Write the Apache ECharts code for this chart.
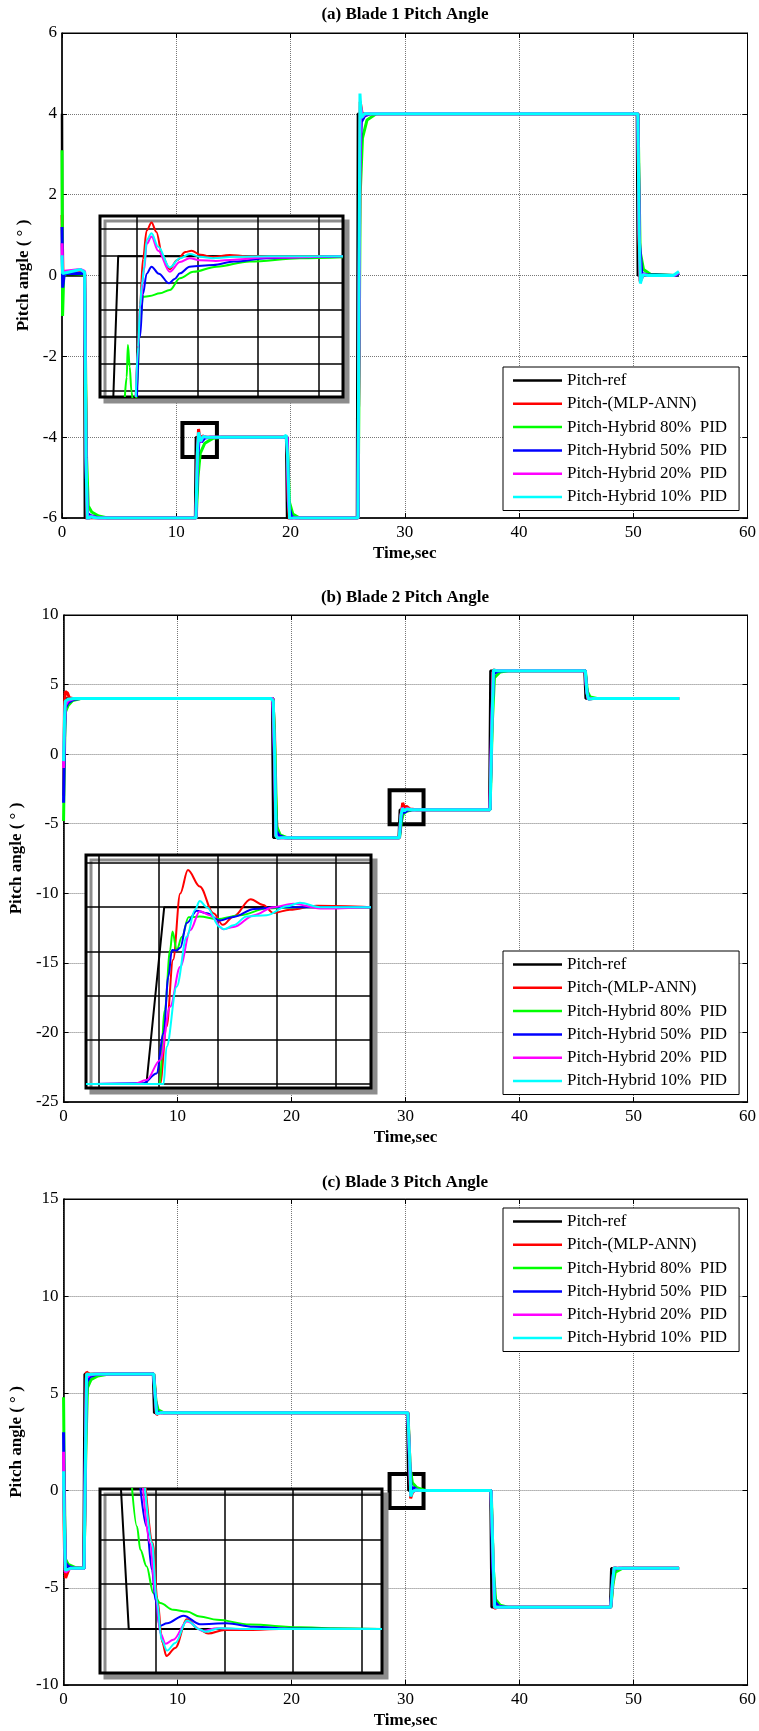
<!DOCTYPE html>
<html>
<head>
<meta charset="utf-8">
<title>Blade pitch angle</title>
<script src="https://cdn.jsdelivr.net/npm/echarts@6/dist/echarts.min.js"></script>
<style>
html,body{margin:0;padding:0;background:#fff;}
#main{width:759px;height:1731px;}
</style>
</head>
<body>
<div id="main"></div>
<script type="text/javascript">
// legend / series names and colours
var names = ['Pitch-ref', 'Pitch-(MLP-ANN)', 'Pitch-Hybrid 80%  PID', 'Pitch-Hybrid 50%  PID', 'Pitch-Hybrid 20%  PID', 'Pitch-Hybrid 10%  PID'];
var colors = ['#000000', '#ff0000', '#00ff00', '#0000ff', '#ff00ff', '#00ffff'];
var titles = ['(a) Blade 1 Pitch Angle', '(b) Blade 2 Pitch Angle', '(c) Blade 3 Pitch Angle'];
var xTicks = [0, 60, 10];
var yTicks = [[-6, 6, 2], [-25, 10, 5], [-10, 15, 5]];

// ---- blade 1 (time s, angle deg)
var b1Ref = [[0,4],[0.03,0],[1.95,0],[2.0,-6],[11.65,-6],[11.72,-4],[19.62,-4],[19.7,-6],[25.82,-6],[25.9,4],[50.32,4],[50.4,0],[54,0]];
var b1Ann = [[0,1.5],[0.08,0.1],[0.3,0.05],[1.6,0.1],[1.98,0.05],[2.1,-4],[2.2,-6.1],[2.4,-6.0],[11.72,-6],[11.85,-4.4],[11.95,-3.8],[12.1,-4.1],[12.3,-3.97],[12.6,-4],[19.7,-4],[19.8,-5.5],[19.9,-6.05],[20.2,-6],[25.9,-6],[26.0,-1],[26.1,4.3],[26.3,3.95],[26.6,4.0],[50.4,4],[50.5,1],[50.6,-0.15],[50.9,0.03],[51.3,0],[53.6,0],[54,0.06]];
var b1H80 = [[0,3.1],[0.05,-1],[0.15,0],[0.4,0.05],[1.98,0.03],[2.15,-4.5],[2.3,-5.7],[2.6,-5.85],[3.2,-5.95],[4,-6],[11.75,-6],[11.9,-5],[12.1,-4.4],[12.5,-4.15],[13.2,-4.03],[14,-4],[19.72,-4],[19.9,-5.6],[20.2,-5.9],[20.8,-6],[25.92,-6],[26.1,2.0],[26.3,3.4],[26.7,3.85],[27.5,4.0],[50.42,4],[50.6,0.6],[50.9,0.15],[51.5,0.03],[53.7,0],[54,0.05]];
var b1H50 = [[0,1.2],[0.06,-0.3],[0.2,0.05],[1.98,0.05],[2.12,-5],[2.25,-5.9],[2.6,-5.95],[3.2,-6],[11.73,-6],[11.88,-4.5],[12.0,-4.05],[12.2,-4.12],[12.5,-4.02],[13,-4],[19.71,-4],[19.85,-5.7],[20.1,-5.97],[20.5,-6],[25.91,-6],[26.05,2.5],[26.2,3.8],[26.5,3.95],[27,4.0],[50.41,4],[50.55,0.8],[50.75,0.05],[51.2,0.02],[53.7,0],[54,0.05]];
var b1H20 = [[0,0.8],[0.05,0.1],[0.2,0.1],[1.6,0.15],[1.98,0.1],[2.1,-4.5],[2.22,-6.05],[2.5,-5.95],[3,-6],[11.72,-6],[11.86,-4.3],[11.96,-3.9],[12.12,-4.12],[12.35,-3.98],[12.7,-4],[19.7,-4],[19.82,-5.6],[19.95,-6.02],[20.3,-6],[25.9,-6],[26.02,0],[26.12,4.2],[26.3,3.93],[26.6,4.01],[50.4,4],[50.52,1.0],[50.62,-0.12],[50.9,0.03],[51.3,0],[53.6,0],[54,0.08]];
var b1H10 = [[0,0.5],[0.05,0.05],[0.2,0.08],[1.6,0.15],[1.98,0.08],[2.1,-4.5],[2.22,-6.05],[2.5,-5.97],[3,-6],[11.72,-6],[11.86,-4.3],[11.96,-3.88],[12.12,-4.1],[12.35,-3.98],[12.7,-4],[19.4,-4],[19.62,-3.95],[19.75,-4.5],[19.92,-6.02],[20.3,-6],[25.9,-6],[26.0,0],[26.08,4.5],[26.2,3.9],[26.5,4.01],[26.8,4.0],[50.4,4],[50.52,1.0],[50.62,-0.2],[50.85,0.02],[51.3,0],[53.5,0],[54,0.1]];

// ---- blade 2
var b2Ref = [[0,4],[18.3,4],[18.4,-6],[29.4,-6],[29.5,-4],[37.35,-4],[37.45,6],[45.7,6],[45.8,4],[54,4]];
var b2Ann = [[0,-3],[0.08,3.5],[0.15,4.5],[0.35,4.4],[0.5,4.05],[0.8,4.0],[18.35,4],[18.5,2],[18.6,-3],[18.75,-6.05],[19.0,-6],[29.45,-6],[29.6,-4.5],[29.75,-3.5],[29.9,-3.85],[30.1,-3.75],[30.4,-3.95],[31,-4],[37.4,-4],[37.55,1],[37.7,6.05],[38,6],[45.75,6],[45.9,4.6],[46.05,3.95],[46.4,4],[54,4]];
var b2H80 = [[0,-4.8],[0.08,0],[0.15,3.0],[0.4,3.5],[0.8,3.85],[1.5,4.0],[18.38,4],[18.55,0],[18.7,-5.2],[19,-5.8],[19.6,-6],[29.48,-6],[29.65,-4.8],[29.8,-4.3],[30.1,-4.1],[30.6,-4],[37.42,-4],[37.6,2],[37.8,5.5],[38.3,5.9],[39,6],[45.78,6],[45.95,4.5],[46.2,4.1],[46.8,4],[54,4]];
var b2H50 = [[0,-3.5],[0.08,1],[0.15,3.3],[0.4,3.7],[0.9,3.95],[1.5,4],[18.36,4],[18.52,-1],[18.65,-5.5],[18.9,-5.85],[19.4,-6],[29.46,-6],[29.62,-4.6],[29.75,-4.05],[29.9,-4.2],[30.2,-4.02],[30.8,-4],[37.41,-4],[37.58,3],[37.75,5.8],[38.1,5.95],[38.6,6],[45.76,6],[45.92,4.4],[46.1,4.0],[46.5,4],[54,4]];
var b2H20 = [[0,-1],[0.08,2],[0.15,3.5],[0.4,3.85],[0.9,4.0],[18.35,4],[18.5,0],[18.62,-5.8],[18.8,-6.05],[19.2,-6],[29.45,-6],[29.6,-4.4],[29.72,-3.85],[29.88,-4.05],[30.1,-3.92],[30.6,-4],[37.4,-4],[37.56,2],[37.7,6],[38,6.02],[45.75,6],[45.9,4.5],[46.02,3.97],[46.4,4],[54,4]];
var b2H10 = [[0,-0.5],[0.08,2.5],[0.15,3.8],[0.4,3.95],[0.9,4.0],[18.2,4],[18.4,3.8],[18.52,0],[18.64,-5.9],[18.8,-6.05],[19.2,-6],[29.45,-6],[29.6,-4.4],[29.74,-3.9],[29.9,-4.08],[30.1,-3.95],[30.6,-4],[37.42,-4],[37.58,2],[37.72,6.05],[38.0,6.0],[45.77,6],[45.92,4.4],[46.05,3.95],[46.5,4],[54,4]];

// ---- blade 3
var b3Ref = [[0,-4],[1.75,-4],[1.85,6],[7.85,6],[7.95,4],[30.15,4],[30.25,0],[37.45,0],[37.55,-6],[47.95,-6],[48.05,-4],[54,-4]];
var b3Ann = [[0,0],[0.08,-3],[0.18,-4.5],[0.3,-4.3],[0.5,-4.0],[1.8,-4],[1.92,1],[2.0,6.1],[2.3,5.97],[2.8,6],[7.9,6],[8.05,5],[8.15,3.9],[8.4,4],[30.2,4],[30.35,2],[30.45,-0.4],[30.6,-0.1],[30.9,0.05],[31.3,0],[37.5,0],[37.65,-3],[37.8,-6.05],[38.1,-6],[48,-6],[48.15,-5],[48.3,-3.95],[48.6,-4],[54,-4]];
var b3H80 = [[0,4.8],[0.05,1.5],[0.15,-3.5],[0.4,-3.8],[1,-3.95],[1.8,-4],[1.95,2],[2.1,5.3],[2.4,5.7],[3,5.9],[4,6],[7.92,6],[8.1,4.6],[8.3,4.15],[8.8,4],[30.22,4],[30.4,1.2],[30.6,0.4],[31,0.15],[31.8,0],[37.52,0],[37.7,-4],[37.9,-5.6],[38.3,-5.9],[39,-6],[48.02,-6],[48.2,-4.8],[48.4,-4.2],[49,-4],[54,-4]];
var b3H50 = [[0,3],[0.05,0],[0.15,-3.7],[0.4,-3.9],[1,-4],[1.8,-4],[1.93,3],[2.05,5.6],[2.3,5.85],[2.8,5.97],[3.4,6],[7.9,6],[8.05,4.7],[8.2,4.05],[8.6,4],[30.2,4],[30.35,1.5],[30.5,0.05],[30.7,0.15],[31.1,0.02],[31.6,0],[37.5,0],[37.65,-4],[37.85,-5.75],[38.2,-5.95],[38.8,-6],[48,-6],[48.15,-4.6],[48.3,-4.05],[48.7,-4],[54,-4]];
var b3H20 = [[0,2],[0.06,-1],[0.15,-4.2],[0.3,-4.1],[0.6,-4],[1.8,-4],[1.92,2],[2.0,5.8],[2.3,5.95],[2.8,6],[7.9,6],[8.05,4.8],[8.15,3.95],[8.5,4],[30.2,4],[30.35,1.8],[30.45,-0.25],[30.6,-0.05],[30.9,0.03],[31.3,0],[37.5,0],[37.65,-3],[37.8,-6.0],[38.1,-6],[48,-6],[48.15,-4.8],[48.3,-3.97],[48.6,-4],[54,-4]];
var b3H10 = [[0,1],[0.06,-1.5],[0.15,-4.1],[0.3,-4.05],[0.6,-4],[1.8,-4],[1.93,2],[2.02,6.0],[2.3,5.97],[2.8,6],[7.9,6],[8.05,4.8],[8.17,3.95],[8.5,4],[30.2,4],[30.36,1.8],[30.46,-0.3],[30.6,-0.05],[30.9,0.03],[31.3,0],[37.5,0],[37.66,-3],[37.82,-6.0],[38.1,-6],[48.0,-6],[48.15,-4.8],[48.3,-3.97],[48.6,-4],[54,-4]];

// ---- zoom boxes on the main plots [t0, a0, t1, a1]
var zoomBoxes = [[10.54,-3.65,13.56,-4.49],[28.6,-2.59,31.58,-5.03],[28.6,0.85,31.58,-0.9]];

// ---- insets (local zoom units, one grid cell = 1)
var insetX = [[-0.61,3.40],[-0.22,4.59],[-0.82,3.30]];
var insetY = [[-0.23,6.49],[-0.09,5.18],[-0.98,3.125]];

var z1Ref = [[-0.39,-0.23],[-0.31,5],[3.4,5]];
var z1Ann = [[-0.02,-0.23],[0.02,1.6],[0.05,3.2],[0.1,4.9],[0.16,5.95],[0.24,6.25],[0.32,5.9],[0.42,5.0],[0.54,4.51],[0.66,4.85],[0.8,5.15],[0.9,5.2],[1.05,5.05],[1.25,4.97],[1.53,5.04],[1.8,5.0],[3.4,5.0]];
var z1H80 = [[-0.2,-0.23],[-0.17,0.5],[-0.15,1.7],[-0.12,0.89],[-0.09,-0.04],[-0.06,-0.5],[-0.02,-0.5],[0.0,0.03],[0.05,2.5],[0.10,3.49],[0.21,3.52],[0.38,3.62],[0.54,3.74],[0.71,4.18],[0.93,4.42],[1.31,4.61],[1.86,4.80],[2.69,4.92],[3.4,4.96]];
var z1H50 = [[0.0,-0.23],[0.05,2.0],[0.1,3.6],[0.16,4.35],[0.24,4.61],[0.36,4.35],[0.53,3.99],[0.62,4.15],[0.71,4.36],[0.87,4.61],[1.26,4.67],[1.6,4.8],[2.14,4.92],[2.69,4.96],[3.4,5.0]];
var z1H20 = [[-0.02,-0.23],[0.02,1.6],[0.05,3.1],[0.12,4.5],[0.16,5.45],[0.24,5.73],[0.35,5.2],[0.54,4.42],[0.71,4.78],[0.87,4.92],[1.04,4.85],[1.3,4.82],[1.6,4.87],[2.14,4.95],[3.4,5.0]];
var z1H10 = [[-0.02,-0.23],[0.02,1.64],[0.05,3.12],[0.08,3.9],[0.12,4.61],[0.16,5.6],[0.24,5.85],[0.35,5.35],[0.54,4.58],[0.71,4.92],[0.87,5.08],[1.04,4.98],[1.26,4.92],[1.6,4.98],[2.2,5.0],[3.4,5.0]];

var z2Ref = [[-0.22,0],[0.80,0],[1.10,4.0],[4.59,4.0]];
var z2Ann = [[-0.22,0],[1.03,0],[1.14,1.30],[1.25,2.81],[1.37,4.31],[1.50,4.84],[1.70,4.47],[1.93,3.86],[2.09,3.60],[2.27,3.79],[2.56,4.18],[2.77,4.05],[2.94,3.87],[3.22,3.94],[3.67,4.03],[4.59,4.0]];
var z2H80 = [[-0.22,0],[1.02,0],[1.11,1.67],[1.20,3.03],[1.24,3.45],[1.31,3.03],[1.40,3.33],[1.51,3.77],[1.70,3.79],[1.99,3.73],[2.38,3.82],[2.83,3.97],[3.39,4.0],[4.59,4.0]];
var z2H50 = [[-0.22,0],[0.75,0.02],[0.97,0.24],[1.09,1.15],[1.17,2.43],[1.23,3.03],[1.31,3.02],[1.37,3.08],[1.48,3.64],[1.65,3.92],[1.82,3.86],[2.04,3.70],[2.27,3.78],[2.62,3.96],[3.0,4.0],[4.59,4.0]];
var z2H20 = [[-0.22,0],[0.58,0],[0.80,0.09],[1.03,0.54],[1.20,1.75],[1.37,2.65],[1.54,3.48],[1.70,3.91],[1.87,3.82],[2.10,3.50],[2.27,3.55],[2.62,3.82],[2.94,4.0],[3.28,4.08],[3.73,3.97],[4.59,4.0]];
var z2H10 = [[-0.22,0],[1.09,0],[1.14,0.84],[1.31,2.20],[1.48,3.33],[1.62,3.94],[1.70,4.14],[1.82,4.0],[2.04,3.55],[2.11,3.50],[2.27,3.59],[2.49,3.79],[2.83,3.82],[3.17,4.02],[3.39,4.10],[3.73,4.0],[4.59,4.0]];

var z3Ref = [[-0.52,3.3],[-0.40,0],[3.30,0]];
var z3Ann = [[-0.16,3.3],[-0.05,1.92],[0.02,0.65],[0.09,-0.3],[0.15,-0.60],[0.28,-0.42],[0.45,0.22],[0.62,0.0],[0.76,-0.10],[1.0,-0.02],[1.37,-0.02],[1.8,0],[3.30,0]];
var z3H80 = [[-0.36,3.3],[-0.28,2.29],[-0.23,1.77],[-0.14,1.40],[-0.04,0.80],[0.06,0.58],[0.25,0.43],[0.45,0.39],[0.64,0.28],[0.89,0.21],[1.37,0.10],[2.10,0.04],[2.59,0.02],[3.30,0]];
var z3H50 = [[-0.24,3.3],[-0.14,2.29],[-0.06,1.32],[-0.01,0.65],[0.05,0.07],[0.16,0.13],[0.40,0.30],[0.64,0.11],[1.03,0.13],[1.42,0.05],[2.0,0.01],[3.30,0]];
var z3H20 = [[-0.20,3.3],[-0.09,1.92],[-0.01,0.80],[0.06,-0.09],[0.14,-0.33],[0.25,-0.24],[0.45,0.17],[0.69,-0.04],[0.89,0.02],[1.3,0],[3.30,0]];
var z3H10 = [[-0.17,3.3],[-0.06,1.92],[0.01,0.65],[0.08,-0.24],[0.16,-0.48],[0.28,-0.31],[0.45,0.19],[0.64,-0.01],[0.72,-0.06],[0.93,0.02],[1.4,0],[3.30,0]];

var mainData = [[b1Ref,b1Ann,b1H80,b1H50,b1H20,b1H10],[b2Ref,b2Ann,b2H80,b2H50,b2H20,b2H10],[b3Ref,b3Ann,b3H80,b3H50,b3H20,b3H10]];
var insetData = [[z1Ref,z1Ann,z1H80,z1H50,z1H20,z1H10],[z2Ref,z2Ann,z2H80,z2H50,z2H20,z2H10],[z3Ref,z3Ann,z3H80,z3H50,z3H20,z3H10]];

// ---- layout
var FONT = 'Liberation Serif';
var mainTops = [33, 615, 1199];
var mainHeights = [485, 487, 486];
var titleTops = [6, 589, 1174];
var legendTops = [367, 951, 1208];
var insetRects = [[100,216,243,181],[86,855,285,233],[100,1489,282,184]];
var insetSplitX = [4, 5, 4];
var insetSplitY = [6, 5, 4];

var grids = [], xAxes = [], yAxes = [], series = [], titleOpt = [], legends = [];

for (var i = 0; i < 3; i++) {
    titleOpt.push({
        text: titles[i], left: 405, top: titleTops[i], textAlign: 'center', padding: 0,
        textStyle: {fontFamily: FONT, fontSize: 17, fontWeight: 'bold', color: '#000'}
    });

    var g = grids.length;
    grids.push({left: 62, top: mainTops[i], width: 686, height: mainHeights[i],
        show: true, borderColor: '#000', borderWidth: 1, backgroundColor: 'transparent'});
    var xi = xAxes.length, yi = yAxes.length;
    xAxes.push({
        type: 'value', gridIndex: g, min: xTicks[0], max: xTicks[1], interval: xTicks[2],
        name: 'Time,sec', nameLocation: 'middle', nameGap: 27,
        nameTextStyle: {fontFamily: FONT, fontSize: 17, fontWeight: 'bold', color: '#000'},
        axisLine: {onZero: false, lineStyle: {color: '#000', width: 1.5}},
        axisTick: {inside: true, length: 5, lineStyle: {color: '#000'}},
        axisLabel: {fontFamily: FONT, fontSize: 17, color: '#000', margin: 6},
        splitLine: {show: true, lineStyle: {color: '#777', type: 'dotted', width: 1}}
    });
    xAxes.push({
        type: 'value', gridIndex: g, position: 'top', min: xTicks[0], max: xTicks[1], interval: xTicks[2],
        axisLine: {onZero: false, lineStyle: {color: '#000', width: 1}},
        axisTick: {inside: true, length: 5, lineStyle: {color: '#000'}},
        axisLabel: {show: false}, splitLine: {show: false}
    });
    yAxes.push({
        type: 'value', gridIndex: g, min: yTicks[i][0], max: yTicks[i][1], interval: yTicks[i][2],
        name: 'Pitch angle ( ° )', nameLocation: 'middle', nameGap: 29,
        nameTextStyle: {fontFamily: FONT, fontSize: 17, fontWeight: 'bold', color: '#000'},
        axisLine: {onZero: false, lineStyle: {color: '#000', width: 1.5}},
        axisTick: {inside: true, length: 5, lineStyle: {color: '#000'}},
        axisLabel: {fontFamily: FONT, fontSize: 17, color: '#000', margin: 5},
        splitLine: {show: true, lineStyle: {color: '#777', type: 'dotted', width: 1}}
    });
    yAxes.push({
        type: 'value', gridIndex: g, position: 'right', min: yTicks[i][0], max: yTicks[i][1], interval: yTicks[i][2],
        axisLine: {onZero: false, lineStyle: {color: '#000', width: 1}},
        axisTick: {inside: true, length: 5, lineStyle: {color: '#000'}},
        axisLabel: {show: false}, splitLine: {show: false}
    });

    mainData[i].forEach(function (d, k) {
        var s = {
            name: names[k], type: 'line', xAxisIndex: xi, yAxisIndex: yi, data: d,
            symbol: 'none', showSymbol: false, clip: true, z: 2,
            lineStyle: {color: colors[k], width: k === 0 ? 2.5 : 3},
            itemStyle: {color: colors[k]}
        };
        if (k === 5) {
            var b = zoomBoxes[i];
            s.markArea = {
                silent: true,
                itemStyle: {color: 'rgba(0,0,0,0)', borderColor: '#000', borderWidth: 4},
                data: [[{coord: [b[0], b[1]]}, {coord: [b[2], b[3]]}]]
            };
        }
        series.push(s);
    });

    // inset
    var r = insetRects[i];
    var gi = grids.length;
    grids.push({left: r[0], top: r[1], width: r[2], height: r[3], show: true, z: 10,
        backgroundColor: '#fff', borderColor: '#000', borderWidth: 3,
        shadowColor: '#8c8c8c', shadowOffsetX: 5, shadowOffsetY: 5, shadowBlur: 0});
    var ixi = xAxes.length, iyi = yAxes.length;
    xAxes.push({type: 'value', gridIndex: gi, min: insetX[i][0], max: insetX[i][1], splitNumber: insetSplitX[i], z: 11,
        axisLine: {show: false, onZero: false}, axisTick: {show: false}, axisLabel: {show: false},
        splitLine: {show: true, lineStyle: {color: '#000', width: 1.5}}});
    yAxes.push({type: 'value', gridIndex: gi, min: insetY[i][0], max: insetY[i][1], splitNumber: insetSplitY[i], z: 11,
        axisLine: {show: false, onZero: false}, axisTick: {show: false}, axisLabel: {show: false},
        splitLine: {show: true, lineStyle: {color: '#000', width: 1.5}}});
    insetData[i].forEach(function (d, k) {
        series.push({
            name: names[k], type: 'line', xAxisIndex: ixi, yAxisIndex: iyi, data: d,
            symbol: 'none', showSymbol: false, clip: true, z: 12,
            smooth: k === 0 ? false : 0.35, smoothMonotone: 'x',
            lineStyle: {color: colors[k], width: 2}, itemStyle: {color: colors[k]}
        });
    });

    legends.push({
        left: 503, top: legendTops[i], orient: 'vertical', data: names, selectedMode: false,
        icon: 'rect', backgroundColor: '#fff', borderColor: '#000', borderWidth: 1, padding: [5, 12, 5, 10],
        itemWidth: 49, itemHeight: 2.5, itemGap: 6.3, z: 5,
        textStyle: {fontFamily: FONT, fontSize: 17, color: '#000', lineHeight: 17}
    });
}

var myChart = echarts.init(document.getElementById('main'), null, {renderer: 'canvas'});
myChart.setOption({
    animation: false,
    backgroundColor: '#fff',
    title: titleOpt,
    legend: legends,
    grid: grids,
    xAxis: xAxes,
    yAxis: yAxes,
    series: series
});
</script>
</body>
</html>
